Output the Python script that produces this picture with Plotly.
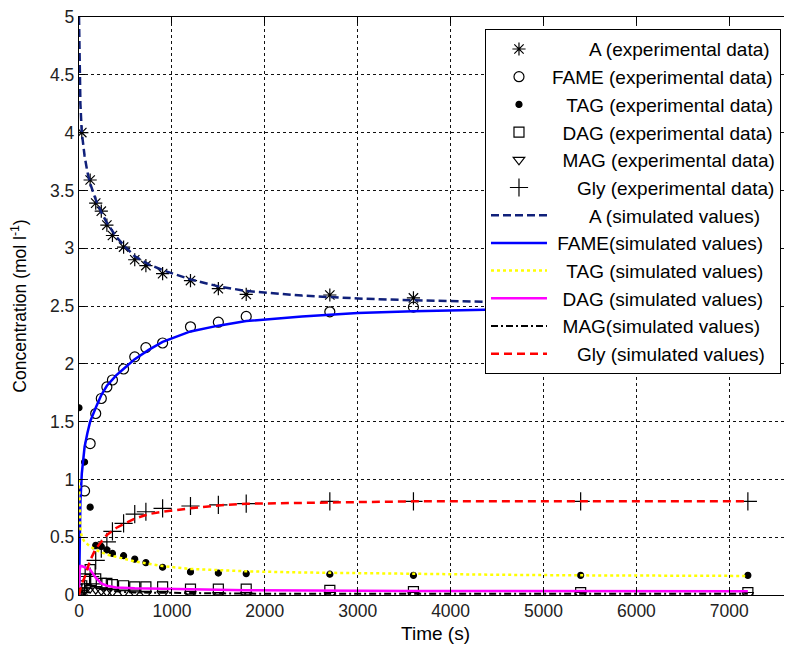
import plotly.graph_objects as go

# ---------------- data ----------------
t_exp = [0, 30, 60, 120, 180, 240, 300, 360, 480, 600, 720, 900, 1200, 1500, 1800, 2700, 3600, 5400, 7200]
A_exp = [None, 4.00, None, 3.59, 3.39, 3.32, 3.20, 3.11, 3.01, 2.90, 2.85, 2.78, 2.72, 2.65, 2.60, 2.595, 2.57, 2.53, 2.52]
FAME_exp = [0.0, None, 0.90, 1.31, 1.57, 1.70, 1.80, 1.86, 1.955, 2.06, 2.14, 2.18, 2.32, 2.36, 2.41, 2.45, 2.49, 2.50, 2.50]
TAG_exp = [1.62, None, 1.15, 0.76, 0.43, 0.42, 0.39, 0.36, 0.34, 0.31, 0.28, 0.24, 0.20, 0.19, 0.185, 0.18, 0.17, 0.17, 0.17]
DAG_exp = [0.0, 0.08, 0.14, 0.22, 0.14, 0.10, 0.10, 0.09, 0.08, 0.07, 0.07, 0.07, 0.05, 0.05, 0.05, 0.04, 0.03, 0.02, 0.02]
MAG_exp = [0.0, 0.02, 0.04, 0.06, 0.05, 0.04, 0.03, 0.03, 0.02, 0.02, 0.01, 0.01, 0.01, 0.0, 0.0, 0.0, 0.0, 0.0, 0.0]
Gly_exp = [0.0, 0.02, 0.06, 0.16, 0.30, 0.40, 0.46, 0.55, 0.62, 0.70, 0.72, 0.75, 0.77, 0.78, 0.79, 0.81, 0.81, 0.81, 0.81]

t_sim = [0, 5, 15, 30, 60, 90, 120, 180, 240, 300, 400, 500, 600, 750, 900, 1200, 1500, 1800, 2400, 3000, 3600, 4500, 5400, 6300, 7200]
A_sim = [5.0, 4.55, 4.25, 4.0, 3.8, 3.66, 3.56, 3.42, 3.31, 3.22, 3.10, 3.01, 2.93, 2.86, 2.81, 2.73, 2.67, 2.63, 2.59, 2.565, 2.55, 2.535, 2.525, 2.52, 2.515]
FAME_sim = [0.0, 0.5, 0.8, 1.05, 1.28, 1.40, 1.50, 1.62, 1.73, 1.81, 1.90, 1.97, 2.04, 2.12, 2.19, 2.28, 2.33, 2.37, 2.41, 2.44, 2.455, 2.47, 2.48, 2.485, 2.49]
TAG_sim = [1.0, 0.75, 0.58, 0.50, 0.46, 0.44, 0.42, 0.39, 0.37, 0.35, 0.33, 0.31, 0.29, 0.27, 0.25, 0.225, 0.213, 0.205, 0.195, 0.188, 0.18, 0.175, 0.17, 0.168, 0.165]
DAG_sim = [0.0, 0.20, 0.25, 0.25, 0.24, 0.235, 0.22, 0.15, 0.10, 0.08, 0.065, 0.06, 0.058, 0.056, 0.055, 0.05, 0.045, 0.042, 0.038, 0.036, 0.035, 0.034, 0.033, 0.033, 0.032]
MAG_sim = [0.0, 0.05, 0.08, 0.09, 0.10, 0.095, 0.09, 0.07, 0.05, 0.04, 0.03, 0.025, 0.022, 0.02, 0.018, 0.015, 0.013, 0.012, 0.01, 0.01, 0.01, 0.01, 0.01, 0.01, 0.01]
Gly_sim = [0.0, 0.02, 0.06, 0.10, 0.15, 0.22, 0.30, 0.40, 0.46, 0.52, 0.58, 0.62, 0.66, 0.70, 0.72, 0.75, 0.775, 0.79, 0.795, 0.80, 0.81, 0.81, 0.81, 0.81, 0.81]

F = "\u2007"   # figure space (pads names so the legend text lines up to the right)
N = "\u00a0"
T = "\u2009"
exp_names = [F*3 + N + "A (experimental data)", "FAME (experimental data)", F + T + "TAG (experimental data)",
             F + "DAG (experimental data)", F + "MAG (experimental data)", F*2 + T + "Gly (experimental data)"]
sim_names = [F*3 + N + "A (simulated values)", N + "FAME(simulated values)", F + T + "TAG (simulated values)",
             F + "DAG (simulated values)", F + "MAG(simulated values)", F*2 + T + "Gly (simulated values)"]

x_ticks = [0, 1000, 2000, 3000, 4000, 5000, 6000, 7000]
y_ticks = [0, 0.5, 1, 1.5, 2, 2.5, 3, 3.5, 4, 4.5, 5]

# ---------------- styles ----------------
exp_series = [A_exp, FAME_exp, TAG_exp, DAG_exp, MAG_exp, Gly_exp]
exp_symbols = ["asterisk-open", "circle-open", "circle", "square-open", "triangle-down-open", "cross-thin-open"]
exp_sizes = [11, 10, 6, 10, 10, 13]

sim_series = [A_sim, FAME_sim, TAG_sim, DAG_sim, MAG_sim, Gly_sim]
sim_colors = ["#10207a", "#0000ff", "#ffff00", "#ff00ff", "#000000", "#ff0000"]
sim_dash = ["8px,4px", "solid", "3px,3px", "solid", "7px,3px,2px,3px", "8px,5px"]
sim_width = [2.5, 2.5, 2.5, 2.5, 2, 2.5]

fig = go.Figure()
for name, ys, sym, sz in zip(exp_names, exp_series, exp_symbols, exp_sizes):
    fig.add_trace(go.Scatter(
        x=t_exp, y=ys, mode="markers", name=name,
        marker=dict(symbol=sym, size=sz, color="black",
                    line=dict(color="black", width=1.2)),
    ))
for name, ys, c, d, w in zip(sim_names, sim_series, sim_colors, sim_dash, sim_width):
    fig.add_trace(go.Scatter(
        x=t_sim, y=ys, mode="lines", name=name,
        line=dict(color=c, dash=d, width=w),
    ))

font_family = "Liberation Sans, Arial, sans-serif"
axis_common = dict(
    showgrid=True, gridcolor="#111111", gridwidth=1, griddash="3px,3px",
    zeroline=False, showline=True, linecolor="black", linewidth=1.3,
    mirror="allticks", ticks="inside", ticklen=6, tickcolor="black",
    tickfont=dict(family=font_family, size=17.5, color="#222222"),
    automargin=False, ticklabeloverflow="allow",
)
fig.update_layout(
    width=784, height=643,
    margin=dict(l=71, r=0, t=9, b=56),
    paper_bgcolor="white", plot_bgcolor="white",
    font=dict(family=font_family, color="black"),
    showlegend=True,
    legend=dict(
        x=0.5694, y=0.979, xanchor="left", yanchor="top",
        bgcolor="white", bordercolor="black", borderwidth=1,
        font=dict(family=font_family, size=19, color="black"),
        itemwidth=56, tracegroupgap=0,
    ),
    xaxis=dict(range=[0, 7675], tickvals=x_ticks,
               title=dict(text="Time (s)", font=dict(family=font_family, size=19), standoff=6),
               **axis_common),
    yaxis=dict(range=[0, 5], tickvals=y_ticks,
               title=dict(text="Concentration (mol l<sup>-1</sup>)", font=dict(family=font_family, size=17.5), standoff=18),
               **axis_common),
)

fig.write_html("out.html", config={"displayModeBar": False})
